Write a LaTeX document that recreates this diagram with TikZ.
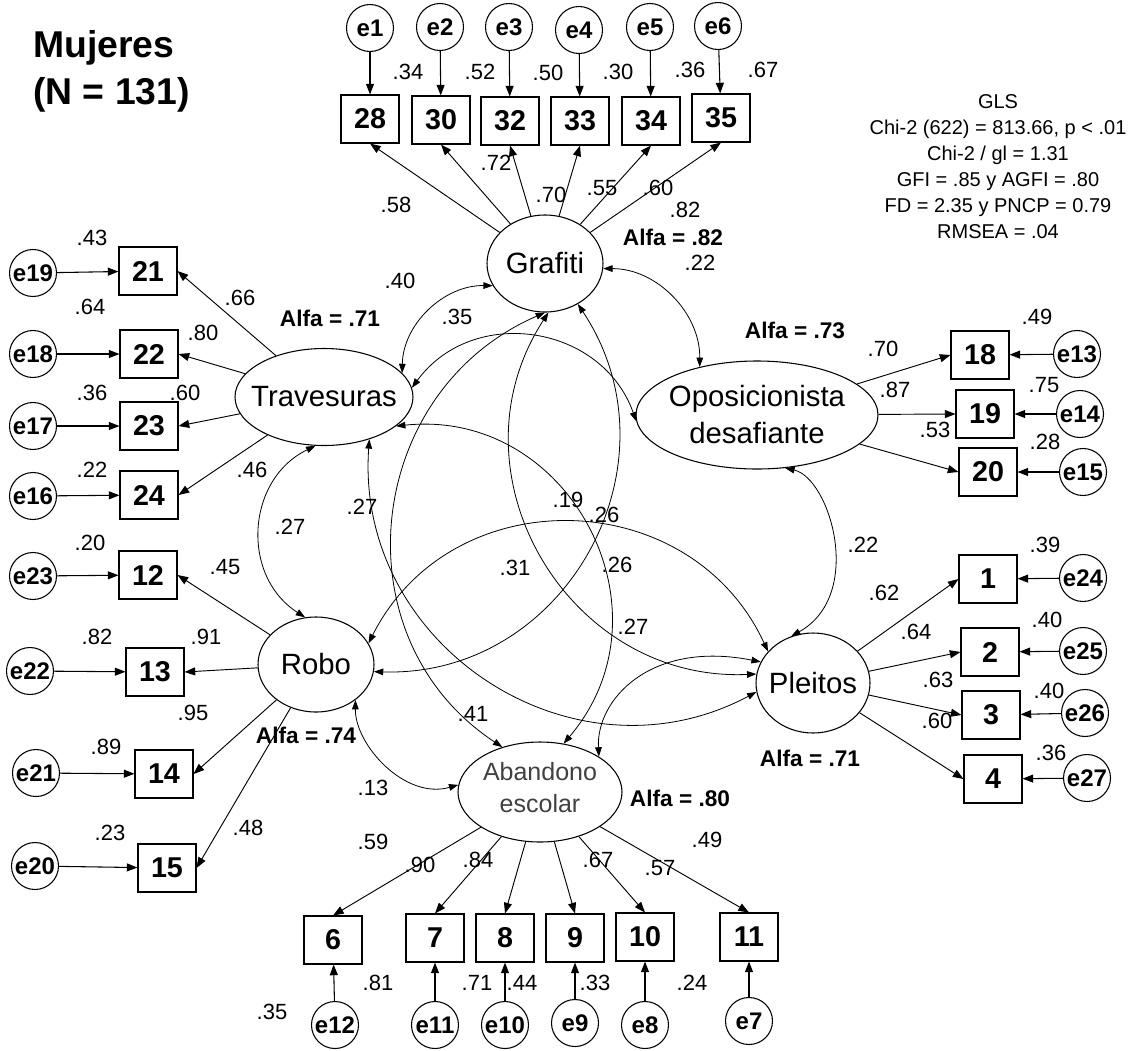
\documentclass[tikz,border=0pt]{standalone}
\usepackage{fontspec}
\setmainfont{Liberation Sans}
\usetikzlibrary{shapes.geometric,arrows.meta}
\begin{document}
\begin{tikzpicture}[x=0.75pt,y=-0.75pt,
  ttl/.style={inner sep=0pt,font=\bfseries\fontsize{28}{32}\selectfont},
  stats/.style={inner sep=0pt,align=center,font=\fontsize{15}{19.5}\selectfont},
  lat/.style={draw,ellipse,line width=0.8pt,inner sep=0pt},
  lt/.style={inner sep=0pt,align=center,font=\fontsize{22}{27.75}\selectfont},
  obs/.style={draw,line width=0.8pt,minimum width=43.5pt,minimum height=36pt,inner sep=0pt,font=\bfseries\fontsize{21.5}{24}\selectfont},
  err/.style={draw,circle,line width=0.8pt,minimum size=35.25pt,inner sep=0pt,font=\bfseries\fontsize{18}{20}\selectfont},
  cf/.style={inner sep=0pt,font=\fontsize{16.5}{18}\selectfont},
  al/.style={inner sep=0pt,font=\bfseries\fontsize{17}{19}\selectfont},
  ld/.style={-{Triangle[length=8pt,width=6pt]},line width=0.7pt},
  ea/.style={-{Triangle[length=8pt,width=6pt]},line width=0.8pt},
  cv/.style={{Triangle[length=7pt,width=5pt]}-{Triangle[length=7pt,width=5pt]},line width=0.6pt}
]
\useasboundingbox (0,0) rectangle (1131,1050);

% title and fit
\node[ttl,anchor=west] (title1) at (33,48) {Mujeres};
\node[ttl,anchor=west] (title2) at (33,95) {(N = 131)};
\node[stats] (fit) at (998,167) {GLS\\Chi-2 (622) = 813.66, p < .01\\Chi-2 / gl = 1.31\\GFI = .85 y AGFI = .80\\FD = 2.35 y PNCP = 0.79\\RMSEA = .04};

% latent factors
\node[lat,minimum width=87pt,minimum height=72.75pt] (G) at (545,263.5) {};
\node[lt] (Gt) at (G) {Grafiti};
\node[lat,minimum width=133.5pt,minimum height=72.75pt] (T) at (324,397) {};
\node[lt] (Tt) at (T) {Travesuras};
\node[lat,minimum width=181.5pt,minimum height=81pt] (O) at (757,415) {};
\node[lt] (Ot) at (O) {Oposicionista\\desafiante};
\node[lat,minimum width=87pt,minimum height=71.25pt] (R) at (316,664.5) {};
\node[lt] (Rt) at (R) {Robo};
\node[lat,minimum width=85.5pt,minimum height=75pt] (P) at (813,683) {};
\node[lt] (Pt) at (P) {Pleitos};
\node[lat,minimum width=123pt,minimum height=75pt] (A) at (540,792) {};
\node[lt,text=black!75,font=\fontsize{18.75}{24}\selectfont] (At) at (540,788) {Abandono\\escolar};

% top items
\node[obs] (b28) at (370,119) {28};
\node[obs] (b30) at (441,120) {30};
\node[obs] (b32) at (510,121) {32};
\node[obs] (b33) at (580,121) {33};
\node[obs] (b34) at (651,121) {34};
\node[obs] (b35) at (721,118) {35};
\node[err] (e1) at (370,28) {e1};
\node[err] (e2) at (440,27) {e2};
\node[err] (e3) at (509,27) {e3};
\node[err] (e4) at (579,30) {e4};
\node[err] (e5) at (650,27) {e5};
\node[err] (e6) at (718,26) {e6};

% left items
\node[obs] (b21) at (148,271) {21};
\node[obs] (b22) at (149,354) {22};
\node[obs] (b23) at (149,426) {23};
\node[obs] (b24) at (149,495) {24};
\node[obs] (b12) at (148,575) {12};
\node[obs] (b13) at (155,672) {13};
\node[obs] (b14) at (164,774) {14};
\node[obs] (b15) at (167,868) {15};
\node[err] (e19) at (33,273) {e19};
\node[err] (e18) at (33,354) {e18};
\node[err] (e17) at (33,426) {e17};
\node[err] (e16) at (33,496) {e16};
\node[err] (e23) at (33,576) {e23};
\node[err] (e22) at (30,671) {e22};
\node[err] (e21) at (36,773) {e21};
\node[err] (e20) at (35,866) {e20};

% bottom items
\node[obs] (b6) at (333,940) {6};
\node[obs] (b7) at (435,938) {7};
\node[obs] (b8) at (505,938) {8};
\node[obs] (b9) at (575,938) {9};
\node[obs] (b10) at (645,937) {10};
\node[obs] (b11) at (749,937) {11};
\node[err] (e12) at (335,1025) {e12};
\node[err] (e11) at (435,1025) {e11};
\node[err] (e10) at (505,1025) {e10};
\node[err] (e9) at (575,1023) {e9};
\node[err] (e8) at (645,1025) {e8};
\node[err] (e7) at (749,1021) {e7};

% right items
\node[obs] (b18) at (980,355) {18};
\node[obs] (b19) at (985,414) {19};
\node[obs] (b20) at (988,472) {20};
\node[obs] (b1) at (988,579) {1};
\node[obs] (b2) at (990,652) {2};
\node[obs] (b3) at (991,715) {3};
\node[obs] (b4) at (993,779) {4};
\node[err] (e13) at (1077,354) {e13};
\node[err] (e14) at (1080,414) {e14};
\node[err] (e15) at (1083,472) {e15};
\node[err] (e24) at (1083,578) {e24};
\node[err] (e25) at (1083,651) {e25};
\node[err] (e26) at (1085,713) {e26};
\node[err] (e27) at (1087,778) {e27};

% error arrows
\foreach \e/\b in {e1/b28,e2/b30,e3/b32,e4/b33,e5/b34,e6/b35,
  e19/b21,e18/b22,e17/b23,e16/b24,e23/b12,e22/b13,e21/b14,e20/b15,
  e12/b6,e11/b7,e10/b8,e9/b9,e8/b10,e7/b11,
  e13/b18,e14/b19,e15/b20,e24/b1,e25/b2,e26/b3,e27/b4}
  \draw[ea] (\e) -- (\b);

% loadings
\foreach \b in {b28,b30,b32,b33,b34,b35} \draw[ld] (G) -- (\b.south);
\foreach \b in {b21,b22,b23,b24} \draw[ld] (T) -- (\b.east);
\foreach \b in {b12,b13,b14,b15} \draw[ld] (R) -- (\b.east);
\foreach \b in {b6,b7,b8,b9,b10,b11} \draw[ld] (A) -- (\b.north);
\foreach \b in {b18,b19,b20} \draw[ld] (O) -- (\b.west);
\foreach \b in {b1,b2,b3,b4} \draw[ld] (P) -- (\b.west);

% covariances
\draw[cv] (T.17) .. controls (403,324) and (444,285) .. (G.-157.5);
\draw[cv] (T.6) .. controls (472.8,304.8) and (601.8,324.1) .. (O.-177);
\draw[cv] (G.-5) .. controls (656.9,268.5) and (700.2,313.1) .. (O.140);
\draw[cv] (T.-100) .. controls (246.2,479.3) and (240.4,575.8) .. (R.103);
\draw[cv] (R.-42) .. controls (355,745) and (405,800) .. (A.175);
\draw[cv] (O.-62) .. controls (830,478) and (865,595) .. (P.115);
\draw[cv] (A.31) .. controls (596,700) and (650,640) .. (P.158);
\draw[cv] (R.22) .. controls (451.8,478.3) and (690.4,483.7) .. (P.145);
\draw[cv] (G.-51.5) .. controls (683.9,464.1) and (565.7,677.7) .. (R.-7.4);
\draw[cv] (G.-90) .. controls (364,391) and (337,638) .. (A.130);
\draw[cv] (G.-86) .. controls (444.6,472.3) and (567,682.4) .. (P.171);
\draw[cv] (T.-43) .. controls (354.6,645.8) and (573,789.6) .. (P.-171);
\draw[cv] (T.-22) .. controls (569.3,407.7) and (676.6,610.7) .. (A.64);

% coefficient labels
\node[cf] (q1) at (408,72) {.34};
\node[cf] (q2) at (480,72) {.52};
\node[cf] (q3) at (548,73) {.50};
\node[cf] (q4) at (618,72) {.30};
\node[cf] (q5) at (690,70) {.36};
\node[cf] (q6) at (763,70) {.67};
\node[cf] (g1) at (396,205) {.58};
\node[cf] (g2) at (496,163) {.72};
\node[cf] (g3) at (551,195) {.70};
\node[cf] (g4) at (602,188) {.55};
\node[cf] (g5) at (658,188) {.60};
\node[cf] (g6) at (685,210) {.82};
\node[al] (alG) at (673,237) {Alfa = .82};
\node[cf] (c1) at (700,263) {.22};
\node[cf] (q7) at (92,238) {.43};
\node[cf] (q8) at (90,307) {.64};
\node[cf] (q9) at (92,393) {.36};
\node[cf] (q10) at (92,470) {.22};
\node[cf] (t1) at (240,298) {.66};
\node[cf] (t2) at (203,333) {.80};
\node[cf] (t3) at (185,393) {.60};
\node[cf] (t4) at (252,470) {.46};
\node[al] (alT) at (330,318) {Alfa = .71};
\node[cf] (c2) at (400,281) {.40};
\node[cf] (c3) at (457,317) {.35};
\node[cf] (q11) at (90,543) {.20};
\node[cf] (q12) at (97,637) {.82};
\node[cf] (q13) at (106,747) {.89};
\node[cf] (q14) at (110,833) {.23};
\node[cf] (r1) at (225,567) {.45};
\node[cf] (r2) at (206,637) {.91};
\node[cf] (r3) at (193,713) {.95};
\node[cf] (r4) at (248,828) {.48};
\node[al] (alR) at (306,735) {Alfa = .74};
\node[cf] (c4) at (290,527) {.27};
\node[cf] (c5) at (373,788) {.13};
\node[cf] (c6) at (362,507) {.27};
\node[cf] (c7) at (568,500) {.19};
\node[cf] (c8) at (604,515) {.26};
\node[cf] (c9) at (515,568) {.31};
\node[cf] (c10) at (617,565) {.26};
\node[cf] (c11) at (633,627) {.27};
\node[cf] (c12) at (473,714) {.41};
\node[cf] (c13) at (863,545) {.22};
\node[cf] (a1) at (373,842) {.59};
\node[cf] (a2) at (420,865) {.90};
\node[cf] (a3) at (478,860) {.84};
\node[cf] (a4) at (598,860) {.67};
\node[cf] (a5) at (660,868) {.57};
\node[cf] (a6) at (707,840) {.49};
\node[al] (alA) at (680,798) {Alfa = .80};
\node[cf] (q15) at (272,1012) {.35};
\node[cf] (q16) at (378,983) {.81};
\node[cf] (q17) at (477,983) {.71};
\node[cf] (q18) at (522,983) {.44};
\node[cf] (q19) at (595,983) {.33};
\node[cf] (q20) at (692,983) {.24};
\node[al] (alO) at (795,330) {Alfa = .73};
\node[cf] (o1) at (883,349) {.70};
\node[cf] (o2) at (895,390) {.87};
\node[cf] (o3) at (935,430) {.53};
\node[cf] (q21) at (1037,317) {.49};
\node[cf] (q22) at (1044,385) {.75};
\node[cf] (q23) at (1045,442) {.28};
\node[cf] (p1) at (884,593) {.62};
\node[cf] (p2) at (916,632) {.64};
\node[cf] (p3) at (938,680) {.63};
\node[cf] (p4) at (937,721) {.60};
\node[al] (alP) at (810,758) {Alfa = .71};
\node[cf] (q24) at (1045,545) {.39};
\node[cf] (q25) at (1047,620) {.40};
\node[cf] (q26) at (1049,691) {.40};
\node[cf] (q27) at (1051,753) {.36};
\end{tikzpicture}
\end{document}
